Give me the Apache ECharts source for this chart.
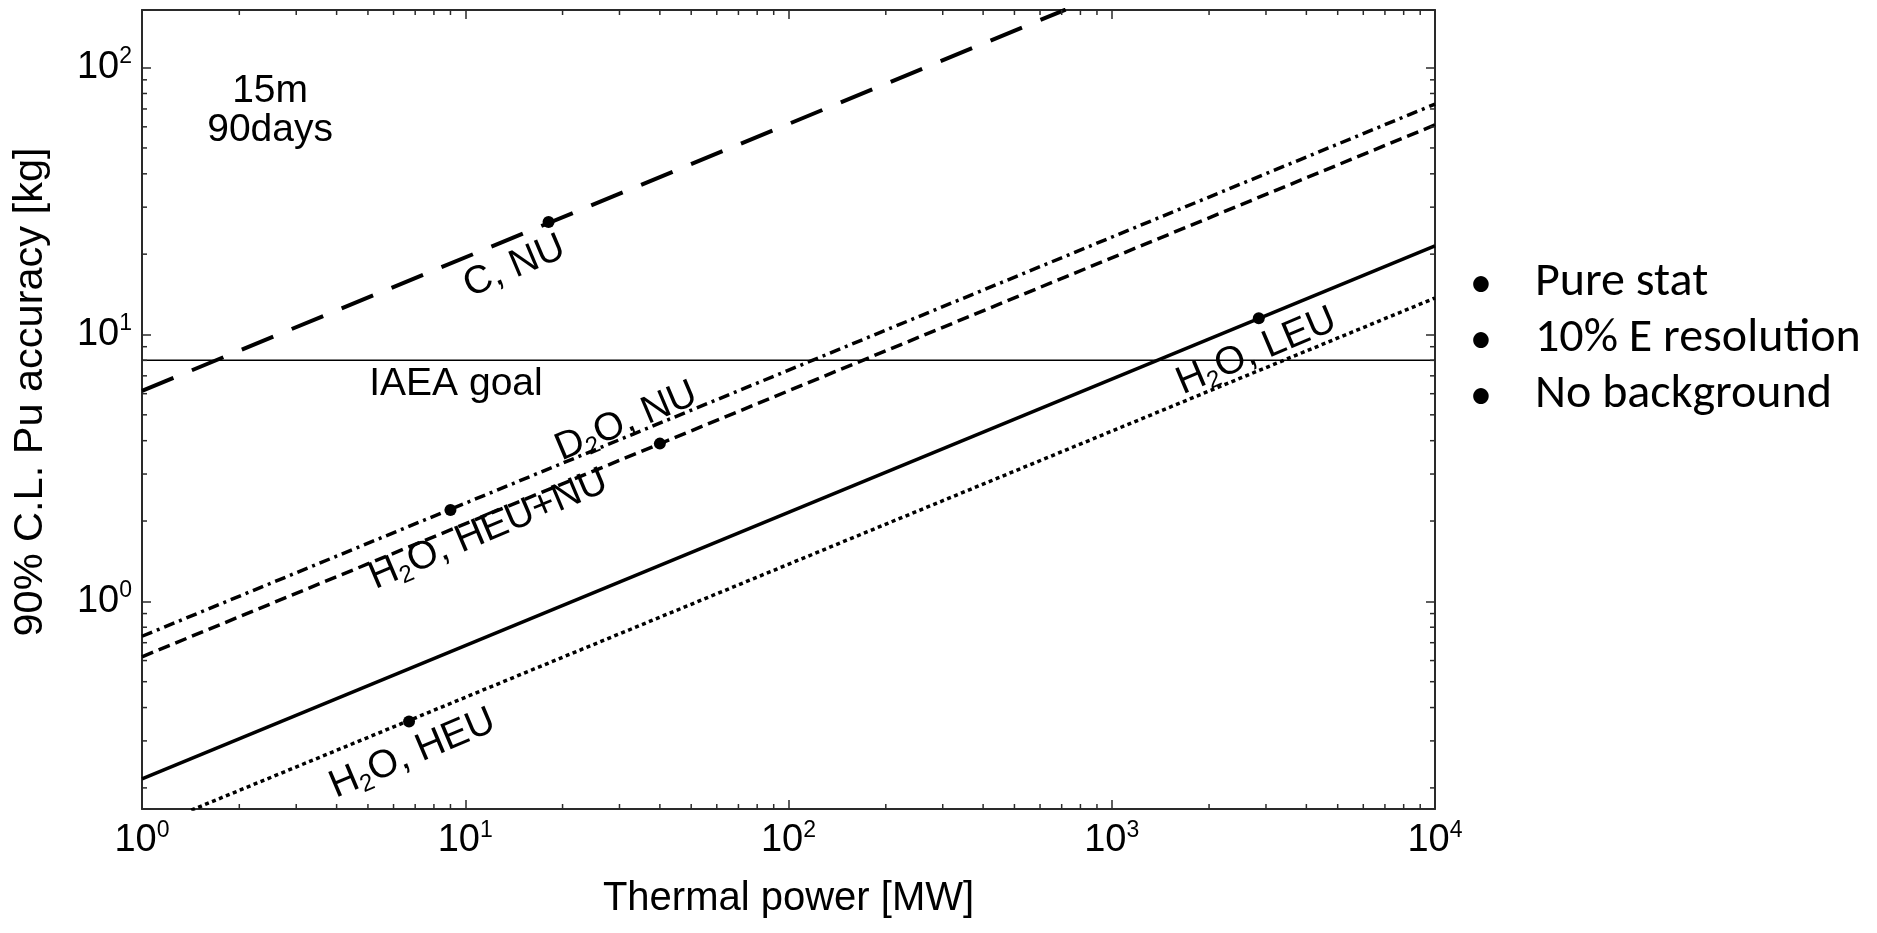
<!DOCTYPE html>
<html><head><meta charset="utf-8">
<script src="https://cdn.jsdelivr.net/npm/echarts@6/dist/echarts.min.js"></script>
<style>html,body{margin:0;padding:0;background:#fff;}#c{width:1877px;height:933px;}</style>
</head><body><div id="c"></div>
<script>
// ---------- data ----------
const xRange = [1, 10000];               // Thermal power [MW]
const yRange = [0.1667, 164.4];          // 90% C.L. Pu accuracy [kg]
const xMinorTicks = [2,3,4,5,6,7,8,9,20,30,40,50,60,70,80,90,200,300,400,500,600,700,800,900,2000,3000,4000,5000,6000,7000,8000,9000];
const yMinorTicks = [0.2,0.3,0.4,0.5,0.6,0.7,0.8,0.9,2,3,4,5,6,7,8,9,20,30,40,50,60,70,80,90];
const iaeaGoal = 8;
const cNU      = [[1, 6.15], [720, 165]];
const d2oNU    = [[1, 0.74], [10000, 73]];
const h2oHeuNu = [[1, 0.62], [10000, 61]];
const h2oLEU   = [[1, 0.216], [10000, 21.5]];
const h2oHEU   = [[1.42, 0.165], [10000, 13.7]];
const reactorPoints = [[18.1, 26.4], [9, 2.2], [40, 3.9], [2850, 11.5], [6.7, 0.355]];
const annotationText = ['15m\n90days', 'IAEA goal', 'C, NU', '{t|D}{s|2}{t|O, NU}', '{t|H}{s|2}{t|O, HEU+NU}', '{t|H}{s|2}{t|O, HEU}', '{t|H}{s|2}{t|O, LEU}'];
const annotationX    = [2.49, 9.36, 14.2, 31.5, 11.8, 6.87, 2805];
const annotationY    = [69.2, 6.49, 17.97, 4.72, 1.857, 0.2685, 8.63];
const annotationRot  = [0, 0, 23, 23, 23, 23, 23];
const bullets = ['Pure stat', '10% E resolution', 'No background'];
const xTitle = 'Thermal power [MW]';
const yTitle = '90% C.L. Pu accuracy [kg]';

// ---------- styling ----------
const FONT = '"Liberation Sans", Arial, Helvetica, sans-serif';
const INK = '#000';
const FRAME = '#2a2a2a';
const MINOR = 5, MAJOR = 9;

function pow10Label(v) {
  const l = Math.log10(v), e = Math.round(l);
  if (Math.abs(l - e) > 1e-6) return '';
  return '{b|10}{p|' + e + '}';
}
const tickRich = {
  b: {fontSize: 38, fontFamily: FONT, color: INK, lineHeight: 44},
  p: {fontSize: 23, fontFamily: FONT, color: INK, lineHeight: 30, verticalAlign: 'top'}
};
const annRich = {
  t: {fontSize: 39, fontFamily: FONT, color: INK, lineHeight: 44},
  s: {fontSize: 24, fontFamily: FONT, color: INK, lineHeight: 24, verticalAlign: 'bottom'}
};

function axisCommon(extra) {
  return Object.assign({
    type: 'log', logBase: 10,
    axisLine: {show: true, lineStyle: {color: FRAME, width: 2}},
    axisTick: {show: true, inside: true, length: MAJOR, lineStyle: {color: FRAME, width: 1.5}},
    splitLine: {show: false},
    minorTick: {show: false},
  }, extra);
}

function lineSeries(data, width, dash) {
  return {
    type: 'line', data: data, xAxisIndex: 0, yAxisIndex: 0,
    showSymbol: false, symbol: 'none', clip: true, z: 3, silent: true,
    lineStyle: {color: '#000', width: width, type: dash, cap: 'butt', opacity: 1}
  };
}

function tickSeries(values, isX) {
  return {
    type: 'custom', xAxisIndex: 0, yAxisIndex: 0, clip: false, silent: true, z: 5,
    data: values.map(v => isX ? [v, yRange[0]] : [xRange[0], v]),
    renderItem: function (params, api) {
      const st = {stroke: FRAME, lineWidth: 1.5};
      if (isX) {
        const v = api.value(0);
        const b = api.coord([v, yRange[0]]), t = api.coord([v, yRange[1]]);
        return {type: 'group', children: [
          {type: 'line', shape: {x1: b[0], y1: b[1], x2: b[0], y2: b[1] - MINOR}, style: st},
          {type: 'line', shape: {x1: t[0], y1: t[1], x2: t[0], y2: t[1] + MINOR}, style: st}
        ]};
      } else {
        const v = api.value(1);
        const l = api.coord([xRange[0], v]), r = api.coord([xRange[1], v]);
        return {type: 'group', children: [
          {type: 'line', shape: {x1: l[0], y1: l[1], x2: l[0] + MINOR, y2: l[1]}, style: st},
          {type: 'line', shape: {x1: r[0], y1: r[1], x2: r[0] - MINOR, y2: r[1]}, style: st}
        ]};
      }
    }
  };
}

const chart = echarts.init(document.getElementById('c'), null, {renderer: 'canvas'});
const option = {
  animation: false,
  backgroundColor: '#fff',
  grid: {left: 142, top: 10, width: 1293, height: 799, containLabel: false, outerBoundsMode: 'none'},
  xAxis: [
    axisCommon({min: xRange[0], max: xRange[1], position: 'bottom',
      axisLabel: {show: true, margin: 10, formatter: pow10Label, rich: tickRich, showMinLabel: true, showMaxLabel: true},
      name: xTitle, nameLocation: 'middle', nameGap: 70,
      nameTextStyle: {fontSize: 40, fontFamily: FONT, color: INK, lineHeight: 40}}),
    axisCommon({min: xRange[0], max: xRange[1], position: 'top', axisLabel: {show: false}})
  ],
  yAxis: [
    axisCommon({min: yRange[0], max: yRange[1], position: 'left',
      axisLabel: {show: true, margin: 10, formatter: pow10Label, rich: tickRich}}),
    axisCommon({min: yRange[0], max: yRange[1], position: 'right', axisLabel: {show: false}})
  ],
  series: [
    {
      type: 'line', xAxisIndex: 0, yAxisIndex: 0, silent: true, showSymbol: false, symbol: 'none', z: 2,
      data: [[xRange[0], iaeaGoal], [xRange[1], iaeaGoal]],
      lineStyle: {color: '#000', width: 1.5}
    },
    lineSeries(cNU, 4, [34, 20]),
    lineSeries(d2oNU, 3.5, [11, 5, 3, 5]),
    lineSeries(h2oHeuNu, 3.5, [12, 6]),
    lineSeries(h2oLEU, 3.5, 'solid'),
    lineSeries(h2oHEU, 3.5, [4, 3.5]),
    {
      type: 'scatter', xAxisIndex: 0, yAxisIndex: 0, silent: true, z: 6,
      data: reactorPoints, symbol: 'circle', symbolSize: 12,
      itemStyle: {color: '#000', opacity: 1}
    },
    {
      type: 'scatter', xAxisIndex: 0, yAxisIndex: 0, silent: true, z: 7,
      symbolSize: 0, itemStyle: {opacity: 1},
      data: annotationText.map((t, i) => ({
        value: [annotationX[i], annotationY[i]],
        label: {rotate: annotationRot[i]},
        name: t
      })),
      label: {
        show: true, position: 'inside', formatter: p => p.name, opacity: 1,
        fontSize: 39, fontFamily: FONT, color: INK, lineHeight: 39,
        align: 'center', verticalAlign: 'middle', rich: annRich
      }
    },
    tickSeries(xMinorTicks, true),
    tickSeries(yMinorTicks, false)
  ],
  graphic: [
    {type: 'text', x: 31, y: 392, rotation: Math.PI / 2, silent: true,
     style: {text: yTitle, fontSize: 41.5, fontFamily: FONT, fill: INK, align: 'center', verticalAlign: 'middle'}}
  ].concat(bullets.flatMap((b, i) => [
    {type: 'text', x: 1481, y: 283 + i * 56, silent: true,
     style: {text: '\u2022', fontSize: 42, fontFamily: 'Lato, "Open Sans", sans-serif', fill: '#000', align: 'center', verticalAlign: 'middle'}},
    {type: 'text', x: 1535, y: 283 + i * 56, silent: true,
     style: {text: b, fontSize: 48, fontFamily: 'Carlito, Lato, "Open Sans", sans-serif', fill: '#000', align: 'left', verticalAlign: 'middle'}}
  ]))
};
chart.setOption(option);
</script></body></html>
